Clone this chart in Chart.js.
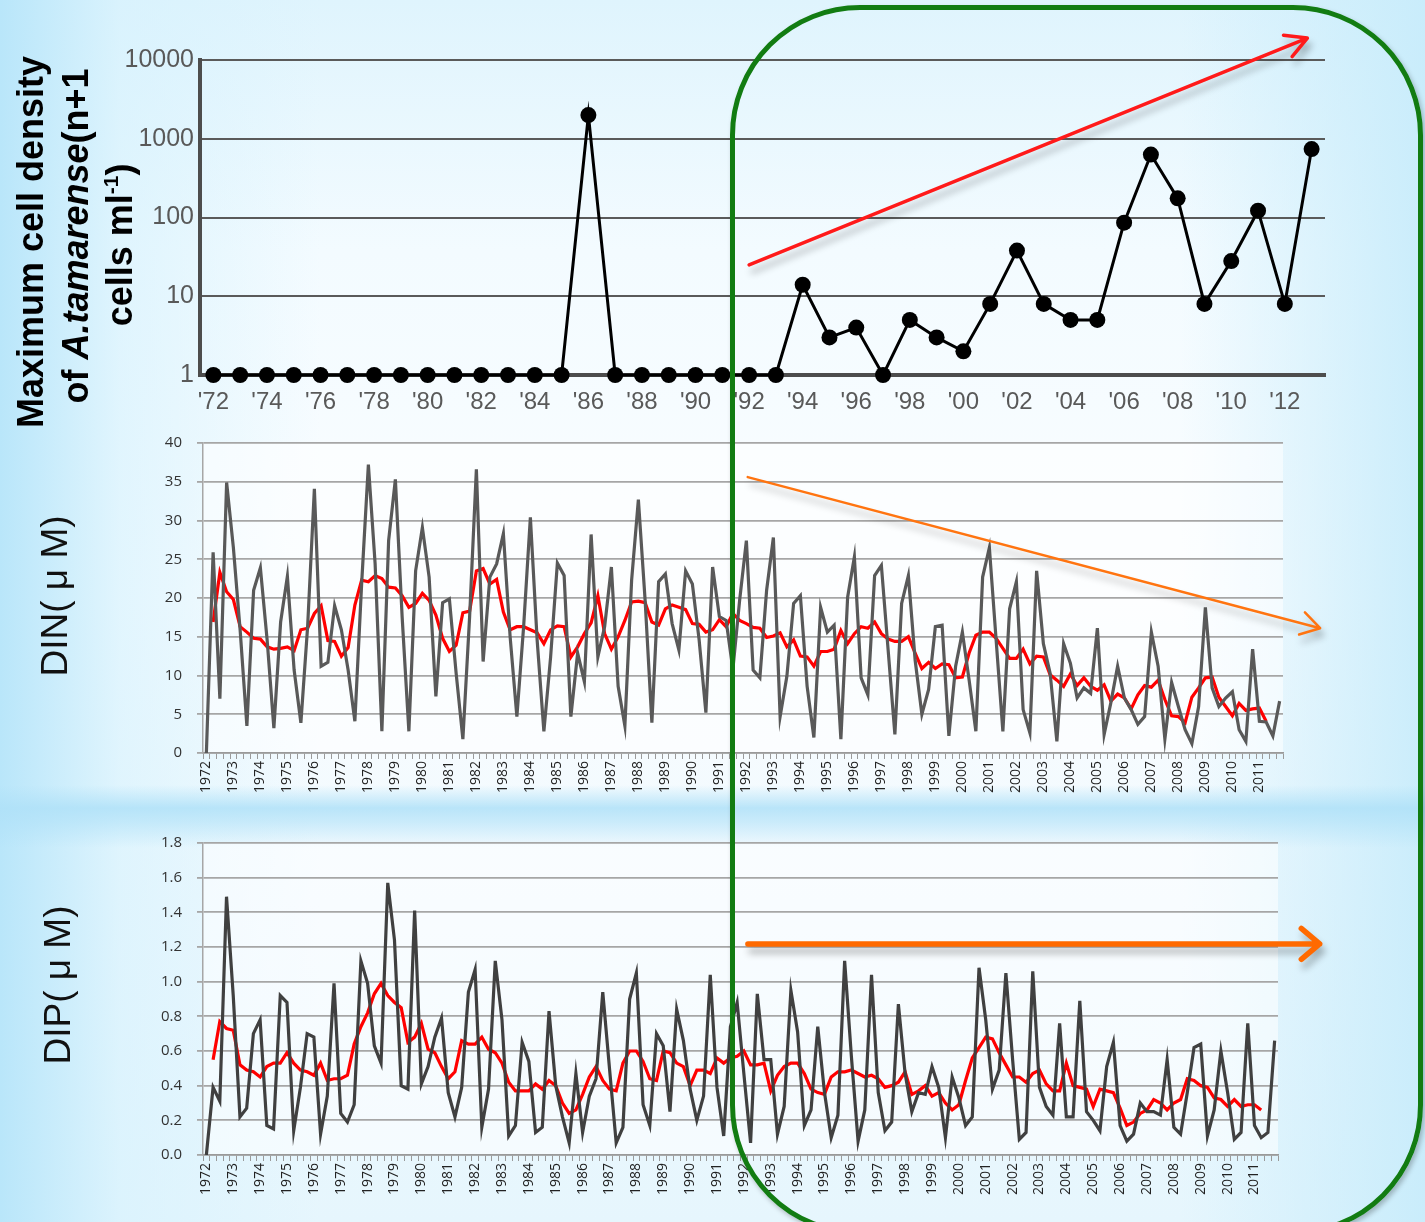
<!DOCTYPE html>
<html><head><meta charset="utf-8">
<script src="https://cdn.jsdelivr.net/npm/chart.js@4.4.1/dist/chart.umd.min.js"></script>
<style>
html,body{margin:0;padding:0;}
body{width:1425px;height:1222px;overflow:hidden;position:relative;
 background:
  linear-gradient(to bottom, rgba(255,255,255,0) 785px, rgba(175,225,248,0.85) 808px, rgba(175,225,248,0.6) 822px, rgba(255,255,255,0) 848px),
  linear-gradient(to right, rgba(185,230,250,1) 0px, rgba(215,242,253,0.7) 120px, rgba(240,250,255,0) 320px, rgba(240,250,255,0) 1180px, rgba(200,236,251,0.95) 1425px),
  linear-gradient(to bottom, #dff4fd 0px, #f3fbff 250px, #fafdff 600px, #f0f9fe 900px, #e6f6fd 1222px);
}
.c{position:absolute;left:0;width:1425px;}
#box{position:absolute;left:730px;top:5px;width:693px;height:1230px;border:5px solid #127c12;border-radius:130px;box-sizing:border-box;pointer-events:none;box-shadow:2px 3px 5px rgba(0,0,0,0.25);z-index:5;}
</style></head>
<body>
<div class="c" style="top:0;height:430px"><canvas id="c1"></canvas></div>
<div class="c" style="top:430px;height:372px"><canvas id="c2"></canvas></div>
<div class="c" style="top:818px;height:404px"><canvas id="c3"></canvas></div>
<div id="box"></div>
<script>
// ---------- Top chart: max cell density (n+1) ----------
const years = [1972,1973,1974,1975,1976,1977,1978,1979,1980,1981,1982,1983,1984,1985,1986,1987,1988,1989,1990,1991,1992,1993,1994,1995,1996,1997,1998,1999,2000,2001,2002,2003,2004,2005,2006,2007,2008,2009,2010,2011,2012,2013];
const yearTickLabels = ["'72","'73","'74","'75","'76","'77","'78","'79","'80","'81","'82","'83","'84","'85","'86","'87","'88","'89","'90","'91","'92","'93","'94","'95","'96","'97","'98","'99","'00","'01","'02","'03","'04","'05","'06","'07","'08","'09","'10","'11","'12","'13"];
const cellDensity = [1,1,1,1,1,1,1,1,1,1,1,1,1,1,2000,1,1,1,1,1,1,1,14,3,4,1,5,3,2,8,38,8,5,5,86,630,175,8,28,122,8,740];
const logTicks = [1,10,100,1000,10000];

// ---------- Quarterly DIN / DIP ----------
const quarterYears = [1972,1973,1974,1975,1976,1977,1978,1979,1980,1981,1982,1983,1984,1985,1986,1987,1988,1989,1990,1991,1992,1993,1994,1995,1996,1997,1998,1999,2000,2001,2002,2003,2004,2005,2006,2007,2008,2009,2010,2011];
const quarters = ["Q1","Q2","Q3","Q4"];

const dinValues = [
 0,25.9,7.0,34.9,26.5,15.9,3.5,21.0,23.9,14.6,
 3.2,16.9,22.8,10.7,3.9,16.3,34.1,11.2,11.7,19.0,
 15.9,10.7,4.1,21.8,37.2,24.4,2.8,27.4,35.3,17.6,
 2.8,23.5,29.1,22.7,7.3,19.4,19.9,10.3,1.8,17.6,
 36.6,11.8,22.7,24.4,28.3,15.0,4.7,16.3,30.4,14.6,
 2.8,12.4,24.5,22.9,4.7,12.9,9.2,28.2,12.4,16.3,
 24.0,8.6,3.5,22.3,32.7,19.7,3.9,22.1,23.1,16.7,
 13.3,23.5,21.8,14.6,5.2,24.0,17.6,17.1,10.8,19.7,
 27.4,10.7,9.7,21.0,27.8,4.7,9.9,19.3,20.3,8.6,
 2.0,18.8,15.6,16.5,1.8,20.1,25.3,9.7,7.5,22.9,
 24.2,13.3,2.4,19.3,22.9,12.0,5.0,8.2,16.3,16.5,
 2.2,11.2,15.6,9.4,2.8,22.7,26.5,14.6,2.8,18.6,
 22.1,5.6,2.6,23.5,14.1,10.3,1.5,14.1,11.6,7.1,
 8.4,7.7,16.1,2.4,6.5,11.2,7.1,5.6,3.7,4.7,
 15.6,11.2,1.8,9.1,6.0,3.0,1.2,6.0,18.8,8.4,
 6.0,7.1,7.9,3.0,1.5,13.4,4.1,4.0,2.2,6.7];
const dinMean = [
 null,16.9,23.3,20.8,19.8,16.3,15.6,14.8,14.7,13.7,
 13.4,13.5,13.7,13.2,15.9,16.1,18.0,19.0,14.5,14.4,
 12.5,13.6,19.1,22.3,22.1,22.9,22.5,21.4,21.3,20.3,
 18.8,19.3,20.6,19.7,17.8,14.8,13.1,13.9,18.1,18.3,
 23.5,23.8,21.8,22.4,18.2,15.9,16.3,16.3,15.9,15.5,
 14.1,15.9,16.4,16.3,12.4,13.7,15.4,16.8,20.3,15.4,
 13.4,15.0,17.1,19.5,19.6,19.4,16.9,16.5,18.6,19.1,
 18.8,18.5,16.7,16.6,15.6,15.9,17.2,16.3,18.0,17.1,
 16.7,16.2,16.1,14.9,15.1,15.5,13.7,14.6,12.5,12.4,
 11.2,13.1,13.1,13.4,15.8,14.1,15.4,16.3,16.1,16.9,
 15.4,14.7,14.4,14.4,15.0,12.9,10.9,11.7,10.9,11.5,
 11.4,9.7,9.8,12.9,15.2,15.6,15.6,14.8,13.5,12.2,
 12.2,13.4,11.5,12.5,12.4,10.1,9.4,8.6,10.2,8.7,
 9.7,8.6,8.1,8.8,6.7,7.6,7.1,5.7,7.5,8.7,
 8.5,9.4,6.9,4.8,4.7,3.9,7.2,8.4,9.7,9.8,
 7.2,6.0,4.8,6.4,5.5,5.7,5.8,4.1,null,null];
const dipValues = [
 0.00,0.39,0.31,1.49,0.92,0.22,0.27,0.70,0.78,0.17,
 0.15,0.92,0.88,0.14,0.39,0.70,0.68,0.12,0.34,0.99,
 0.24,0.19,0.29,1.12,0.99,0.63,0.53,1.57,1.24,0.40,
 0.38,1.41,0.41,0.51,0.68,0.79,0.36,0.22,0.39,0.94,
 1.07,0.16,0.38,1.12,0.78,0.11,0.17,0.65,0.54,0.13,
 0.16,0.83,0.40,0.22,0.07,0.47,0.13,0.34,0.44,0.94,
 0.50,0.07,0.16,0.90,1.05,0.29,0.17,0.70,0.63,0.25,
 0.84,0.66,0.38,0.20,0.34,1.04,0.39,0.11,0.74,0.88,
 0.47,0.07,0.93,0.55,0.55,0.12,0.28,0.95,0.71,0.17,
 0.26,0.74,0.36,0.10,0.23,1.12,0.57,0.08,0.26,1.04,
 0.36,0.14,0.19,0.87,0.47,0.25,0.36,0.35,0.51,0.39,
 0.10,0.45,0.33,0.17,0.22,1.08,0.78,0.38,0.49,1.05,
 0.55,0.09,0.13,1.06,0.39,0.28,0.23,0.76,0.22,0.22,
 0.89,0.25,0.20,0.14,0.51,0.65,0.17,0.08,0.12,0.30,
 0.25,0.25,0.23,0.55,0.16,0.12,0.36,0.62,0.64,0.11,
 0.26,0.60,0.36,0.09,0.13,0.76,0.17,0.10,0.13,0.66];
const dipMean = [
 null,0.55,0.77,0.73,0.72,0.52,0.49,0.48,0.45,0.51,
 0.53,0.53,0.59,0.53,0.49,0.48,0.46,0.53,0.43,0.44,
 0.44,0.46,0.64,0.74,0.82,0.93,0.99,0.92,0.88,0.85,
 0.65,0.68,0.76,0.61,0.59,0.51,0.44,0.48,0.66,0.64,
 0.64,0.68,0.61,0.59,0.53,0.42,0.37,0.37,0.37,0.41,
 0.38,0.43,0.40,0.30,0.24,0.26,0.35,0.45,0.51,0.43,
 0.38,0.37,0.53,0.60,0.60,0.54,0.44,0.43,0.60,0.59,
 0.53,0.51,0.40,0.49,0.49,0.47,0.56,0.53,0.56,0.57,
 0.60,0.52,0.52,0.53,0.37,0.46,0.51,0.53,0.53,0.47,
 0.38,0.36,0.35,0.45,0.48,0.48,0.49,0.47,0.45,0.46,
 0.44,0.39,0.40,0.42,0.48,0.35,0.37,0.40,0.34,0.36,
 0.30,0.26,0.29,0.43,0.56,0.62,0.68,0.67,0.59,0.52,
 0.45,0.45,0.42,0.47,0.49,0.41,0.37,0.37,0.53,0.40,
 0.39,0.38,0.28,0.38,0.37,0.36,0.27,0.17,0.19,0.24,
 0.26,0.32,0.30,0.26,0.30,0.32,0.44,0.43,0.40,0.39,
 0.33,0.32,0.28,0.32,0.28,0.29,0.29,0.26,null,null];

// categories built from the year list
const quarterLabels = [];
quarterYears.forEach(y => quarters.forEach(q => quarterLabels.push(y + ' ' + q)));

// ---------- plugins ----------
const vTitle = {
  id: 'vtitle',
  afterDraw(chart, args, opts) {
    if (!opts.lines) return;
    const ctx = chart.ctx;
    opts.lines.forEach(line => {
      ctx.save();
      ctx.translate(line.x, line.y);
      ctx.rotate(-Math.PI / 2);
      ctx.textBaseline = 'middle';
      ctx.fillStyle = opts.color || '#000';
      let total = 0;
      line.segs.forEach(s => { ctx.font = s.font; total += ctx.measureText(s.t).width; });
      let x = -total / 2;
      line.segs.forEach(s => { ctx.font = s.font; ctx.fillText(s.t, x, s.dy || 0); x += ctx.measureText(s.t).width; });
      ctx.restore();
    });
  }
};
const arrows = {
  id: 'arrows',
  afterDatasetsDraw(chart, args, opts) {
    if (!opts.list) return;
    const ctx = chart.ctx, xs = chart.scales.x, ys = chart.scales.y;
    opts.list.forEach(a => {
      const x1 = xs.getPixelForValue(a.x1), y1 = ys.getPixelForValue(a.y1);
      const x2 = xs.getPixelForValue(a.x2), y2 = ys.getPixelForValue(a.y2);
      const ang = Math.atan2(y2 - y1, x2 - x1);
      ctx.save();
      ctx.strokeStyle = a.color; ctx.lineWidth = a.width;
      ctx.lineCap = 'round'; ctx.lineJoin = 'round';
      ctx.shadowColor = 'rgba(0,0,0,0.28)'; ctx.shadowBlur = 7; ctx.shadowOffsetX = 3; ctx.shadowOffsetY = 7;
      ctx.beginPath();
      ctx.moveTo(x1, y1); ctx.lineTo(x2, y2);
      ctx.moveTo(x2 - a.head * Math.cos(ang - a.spread), y2 - a.head * Math.sin(ang - a.spread));
      ctx.lineTo(x2, y2);
      ctx.lineTo(x2 - a.head * Math.cos(ang + a.spread), y2 - a.head * Math.sin(ang + a.spread));
      ctx.stroke();
      ctx.restore();
    });
  }
};
const areaFill = {
  id: 'areaFill',
  beforeDraw(chart, args, opts) {
    if (!opts.color) return;
    const a = chart.chartArea, ctx = chart.ctx;
    ctx.save(); ctx.fillStyle = opts.color; ctx.fillRect(a.left, a.top, a.right - a.left, a.bottom - a.top); ctx.restore();
  }
};

const base = { responsive: true, maintainAspectRatio: false, animation: false, devicePixelRatio: 1, events: [] };

// ---------- Chart 1 ----------
new Chart(document.getElementById('c1'), {
  type: 'line',
  data: { labels: yearTickLabels, datasets: [{
    data: cellDensity, borderColor: '#000', borderWidth: 3, pointRadius: 8, pointHoverRadius: 8,
    pointBackgroundColor: '#000', pointBorderWidth: 0, tension: 0, clip: false }] },
  plugins: [vTitle, arrows],
  options: Object.assign({}, base, {
    layout: { padding: { top: 60, right: 100, left: 0, bottom: 0 } },
    plugins: {
      legend: { display: false }, tooltip: { enabled: false },
      vtitle: { color: '#000', lines: [
        { x: 33, y: 242, segs: [{ t: 'Maximum cell density', font: 'bold 36px "Liberation Sans"' }] },
        { x: 78, y: 236, segs: [{ t: 'of ', font: 'bold 36px "Liberation Sans"' }, { t: 'A.tamarense', font: 'italic bold 36px "Liberation Sans"' }, { t: '(n+1', font: 'bold 36px "Liberation Sans"' }] },
        { x: 122, y: 245, segs: [{ t: 'cells ml', font: 'bold 36px "Liberation Sans"' }, { t: '-1', font: 'bold 21px "Liberation Sans"', dy: -10 }, { t: ')', font: 'bold 36px "Liberation Sans"' }] }
      ] },
      arrows: { list: [ { x1: 20, y1: 25, x2: 40.84, y2: 19000, color: '#ff1a1a', width: 3.5, head: 24, spread: 0.5 } ] }
    },
    scales: {
      x: { type: 'category', offset: true,
        grid: { display: false, drawTicks: false },
        border: { display: true, color: '#4d4d4d', width: 4 },
        ticks: { autoSkip: false, maxRotation: 0, minRotation: 0, padding: 13, color: '#595959',
          font: { family: 'Liberation Sans', size: 24 },
          callback: (v, i) => (i % 2 === 0 ? yearTickLabels[i] : '') },
        afterFit(s) { s.height = 55; } },
      y: { type: 'logarithmic', min: 1, max: 10000,
        afterBuildTicks(s) { s.ticks = logTicks.map(v => ({ value: v })); },
        grid: { color: '#5a5a5a', lineWidth: 2, drawTicks: false },
        border: { display: true, color: '#4d4d4d', width: 4 },
        ticks: { padding: 6, color: '#595959', font: { family: 'Liberation Sans', size: 25 }, callback: v => String(v) },
        afterFit(s) { s.width = 200; s.paddingTop = 5; s.paddingBottom = 5; } }
    }
  })
});

function quarterChart(id, values, means, grayColor, yMax, step, fmt, title, titleX, titleY, xHeight, padTop, padRight, arrow) {
  return new Chart(document.getElementById(id), {
    type: 'line',
    data: { labels: quarterLabels, datasets: [
      { data: values, borderColor: grayColor, borderWidth: 3.2, pointRadius: 0, tension: 0 },
      { data: means, borderColor: '#ff0000', borderWidth: 3.2, pointRadius: 0, tension: 0 }
    ] },
    plugins: [vTitle, arrows, areaFill],
    options: Object.assign({}, base, {
      layout: { padding: { top: padTop, right: padRight, left: 0, bottom: 0 } },
      plugins: {
        legend: { display: false }, tooltip: { enabled: false },
        areaFill: { color: 'rgba(255,255,255,0.55)' },
        vtitle: { color: '#111', lines: [ { x: titleX, y: titleY, segs: [{ t: title, font: '37px "Liberation Sans"' }] } ] },
        arrows: { list: [arrow] }
      },
      scales: {
        x: { type: 'category', offset: true,
          grid: { display: true, offset: true, drawOnChartArea: false, drawTicks: true, tickLength: 6, color: '#9a9a9a', lineWidth: 1 },
          border: { display: true, color: '#9a9a9a', width: 1.5 },
          ticks: { autoSkip: false, minRotation: 90, maxRotation: 90, padding: 2, color: '#222',
            font: { family: 'Open Sans', size: 14 },
            callback: (v, i) => (i % 4 === 0 ? String(quarterYears[i / 4]) : '') },
          afterFit(s) { s.height = xHeight; } },
        y: { min: 0, max: yMax,
          grid: { color: '#a6a6a6', lineWidth: 1.8, drawTicks: true, tickLength: 6 },
          border: { display: true, color: '#a6a6a6', width: 1.5 },
          ticks: { stepSize: step, padding: 15, color: '#333', font: { family: 'Open Sans', size: 15 }, callback: fmt },
          afterFit(s) { s.width = 203; s.paddingTop = 5; s.paddingBottom = 5; } }
      }
    })
  });
}

quarterChart('c2', dinValues, dinMean, '#595959', 40, 5, v => String(v), 'DIN( μ M)', 57, 166, 49, 13, 142,
  { x1: 80.2, y1: 35.6, x2: 165.0, y2: 16.1, color: '#ff7410', width: 2.5, head: 22, spread: 0.55 });
quarterChart('c3', dipValues, dipMean, '#404040', 1.8, 0.2, v => Number(v).toFixed(1), 'DIP( μ M)', 60, 167, 67, 25, 147,
  { x1: 80.6, y1: 1.218, x2: 165.7, y2: 1.218, color: '#ff6a00', width: 5.5, head: 24, spread: 0.7 });
</script>
</body></html>
